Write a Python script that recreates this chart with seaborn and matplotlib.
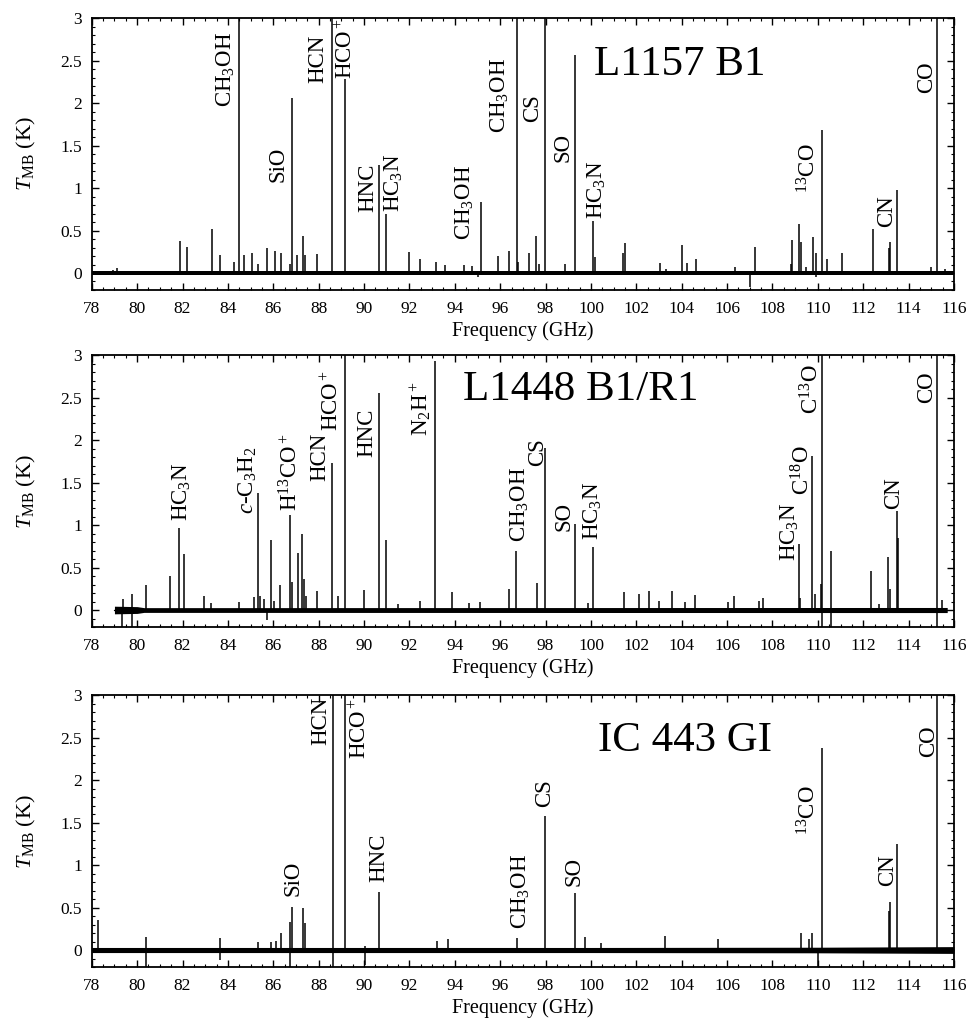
import matplotlib
matplotlib.use("Agg")
import matplotlib.pyplot as plt
import seaborn as sns
from matplotlib.ticker import MultipleLocator, FuncFormatter

# ---------------- L1157 B1 ----------------
l1157_freq = [78.95, 79.10, 81.87, 82.20, 83.28, 83.66, 84.29, 84.50, 84.73, 85.04,
              85.32, 85.73, 86.07, 86.32, 86.72, 86.82, 87.04, 87.30, 87.39, 87.91,
              88.60, 89.16, 90.65, 90.95, 91.98, 92.48, 93.15, 93.55, 94.39, 94.77,
              95.17, 95.89, 96.40, 96.73, 96.80, 97.27, 97.56, 97.71, 97.97, 98.87,
              99.30, 100.08, 100.18, 101.40, 101.48, 103.03, 103.29, 104.00, 104.25, 104.62,
              106.35, 107.23, 108.81, 108.88, 109.17, 109.25, 109.47, 109.78, 109.91, 110.20,
              110.39, 111.08, 112.42, 113.14, 113.19, 113.48, 114.98, 115.27, 115.60]
l1157_peak = [0.04, 0.06, 0.38, 0.31, 0.52, 0.21, 0.13, 4.0, 0.21, 0.24,
              0.11, 0.30, 0.26, 0.24, 0.11, 2.06, 0.21, 0.43, 0.21, 0.22,
              4.0, 2.28, 1.27, 0.70, 0.25, 0.17, 0.13, 0.10, 0.09, 0.08,
              0.84, 0.20, 0.26, 4.0, 0.13, 0.23, 0.44, 0.11, 4.0, 0.11,
              2.57, 0.61, 0.19, 0.23, 0.35, 0.12, 0.05, 0.33, 0.12, 0.16,
              0.07, 0.31, 0.11, 0.39, 0.58, 0.36, 0.07, 0.42, 0.23, 1.69,
              0.17, 0.24, 0.52, 0.29, 0.36, 0.98, 0.07, 4.0, 0.05]
l1157_dip_freq = [95.00, 107.00, 109.90]
l1157_dip = [-0.05, -0.17, -0.05]
l1157_noise_freq = [78.0, 116.0]
l1157_noise = [0.022, 0.022]
l1157_labels = ["CH$_3$OH", "SiO", "HCN", "HCO$^+$", "HNC", "HC$_3$N", "CH$_3$OH",
                "CH$_3$OH", "CS", "SO", "HC$_3$N", "$^{13}$CO", "CN", "CO"]
l1157_label_x = [83.92, 86.21, 87.95, 89.21, 90.17, 91.32, 94.43,
                 95.98, 97.44, 98.77, 100.24, 109.61, 113.02, 114.79]
l1157_label_y = [1.96, 1.07, 2.24, 2.28, 0.72, 0.72, 0.39,
                 1.65, 1.78, 1.31, 0.64, 0.94, 0.54, 2.12]

# ---------------- L1448 B1/R1 ----------------
l1448_freq = [79.37, 79.78, 80.39, 81.47, 81.86, 82.08, 82.96, 83.26, 84.51, 85.14,
              85.31, 85.43, 85.61, 85.90, 86.05, 86.31, 86.74, 86.84, 87.07, 87.28,
              87.35, 87.43, 87.91, 88.59, 88.84, 89.18, 89.98, 90.64, 90.97, 91.48,
              92.48, 93.14, 93.86, 94.64, 95.12, 96.40, 96.71, 97.62, 97.96, 99.28,
              99.85, 100.07, 101.47, 102.13, 102.54, 103.01, 103.59, 104.15, 104.59, 106.02,
              106.31, 107.41, 107.59, 109.15, 109.22, 109.76, 109.88, 110.14, 110.17, 110.60,
              112.33, 112.70, 113.11, 113.17, 113.48, 113.51, 115.27, 115.49]
l1448_peak = [0.13, 0.19, 0.29, 0.40, 0.97, 0.66, 0.17, 0.08, 0.09, 0.15,
              1.38, 0.17, 0.13, 0.83, 0.11, 0.29, 1.12, 0.33, 0.67, 0.89,
              0.36, 0.17, 0.22, 1.73, 0.17, 4.0, 0.24, 2.56, 0.83, 0.07,
              0.11, 2.93, 0.21, 0.08, 0.09, 0.25, 0.70, 0.32, 1.91, 1.01,
              0.08, 0.74, 0.21, 0.19, 0.23, 0.11, 0.22, 0.09, 0.18, 0.10,
              0.17, 0.11, 0.14, 0.78, 0.14, 1.82, 0.19, 0.31, 4.0, 0.70,
              0.46, 0.07, 0.62, 0.25, 1.17, 0.85, 4.0, 0.12]
l1448_dip_freq = [79.35, 79.78, 85.71, 110.17, 110.60, 115.27]
l1448_dip = [-0.25, -0.25, -0.12, -0.25, -0.25, -0.25]
l1448_noise_freq = [79.0, 80.0, 80.3, 115.7]
l1448_noise = [0.045, 0.04, 0.028, 0.03]
l1448_labels = ["HC$_3$N", "$c$-C$_3$H$_2$", "H$^{13}$CO$^+$", "HCN", "HCO$^+$", "HNC",
                "N$_2$H$^+$", "CH$_3$OH", "CS", "SO", "HC$_3$N", "HC$_3$N",
                "C$^{18}$O", "C$^{13}$O", "CN", "CO"]
l1448_label_x = [81.96, 84.90, 86.78, 88.03, 88.59, 90.11,
                 92.51, 96.87, 97.65, 98.82, 100.10, 108.76,
                 109.35, 109.72, 113.32, 114.78]
l1448_label_y = [1.05, 1.13, 1.17, 1.52, 2.11, 1.80,
                 2.05, 0.80, 1.70, 0.93, 0.82, 0.58,
                 1.36, 2.31, 1.19, 2.44]

# ---------------- IC 443 GI ----------------
ic443_freq = [78.29, 80.39, 83.63, 85.34, 85.90, 86.12, 86.34, 86.75, 86.84, 87.33,
              87.40, 88.62, 89.18, 90.06, 90.67, 93.20, 93.68, 96.74, 97.99, 99.31,
              99.75, 100.44, 103.26, 105.58, 109.25, 109.62, 109.76, 110.20, 113.14, 113.18,
              113.48, 115.26]
ic443_peak = [0.35, 0.15, 0.14, 0.10, 0.09, 0.11, 0.20, 0.33, 0.51, 0.49,
              0.32, 4.0, 4.0, 0.05, 0.68, 0.11, 0.13, 0.14, 1.58, 0.67,
              0.15, 0.08, 0.17, 0.13, 0.20, 0.13, 0.20, 2.38, 0.46, 0.57,
              1.25, 4.0]
ic443_dip_freq = [80.39, 83.63, 86.75, 88.62, 90.06, 110.00]
ic443_dip = [-0.20, -0.12, -0.20, -0.20, -0.18, -0.20]
ic443_noise_freq = [78.0, 100.0, 110.0, 116.0]
ic443_noise = [0.03, 0.03, 0.033, 0.04]
ic443_labels = ["SiO", "HCN", "HCO$^+$", "HNC", "CH$_3$OH", "CS", "SO",
                "$^{13}$CO", "CN", "CO"]
ic443_label_x = [86.85, 88.10, 89.82, 90.63, 96.91, 97.94, 99.26,
                 109.62, 113.07, 114.87]
ic443_label_y = [0.64, 2.42, 2.25, 0.80, 0.25, 1.68, 0.76,
                 1.35, 0.76, 2.27]

sources = [
    ("L1157 B1", (100.13, 2.33), l1157_freq, l1157_peak, l1157_dip_freq, l1157_dip,
     l1157_noise_freq, l1157_noise, l1157_labels, l1157_label_x, l1157_label_y),
    ("L1448 B1/R1", (94.34, 2.48), l1448_freq, l1448_peak, l1448_dip_freq, l1448_dip,
     l1448_noise_freq, l1448_noise, l1448_labels, l1448_label_x, l1448_label_y),
    ("IC 443 GI", (100.29, 2.34), ic443_freq, ic443_peak, ic443_dip_freq, ic443_dip,
     ic443_noise_freq, ic443_noise, ic443_labels, ic443_label_x, ic443_label_y),
]

sns.set_style("ticks", {"axes.edgecolor": "black", "text.color": "black",
                        "xtick.color": "black", "ytick.color": "black",
                        "axes.labelcolor": "black"})
plt.rcParams["font.family"] = ["Liberation Serif", "DejaVu Serif"]
plt.rcParams["mathtext.fontset"] = "custom"
plt.rcParams["mathtext.rm"] = "Liberation Serif"
plt.rcParams["mathtext.it"] = "Liberation Serif:italic"
plt.rcParams["mathtext.bf"] = "Liberation Serif:bold"

fig = plt.figure(figsize=(9.71, 10.21), dpi=100)
bottoms = [0.7160, 0.3859, 0.0529]

for (name, name_pos, freq, peak, dfreq, dip, nfreq, noise, labels, lx, ly), b in zip(sources, bottoms):
    ax = fig.add_axes([0.0945, b, 0.888, 0.2660])
    # noise band of the baseline
    ax.fill_between(nfreq, [-n for n in noise], noise, color="black", lw=0)
    ax.plot([nfreq[0], nfreq[-1]], [0, 0], color="black", lw=1.0)
    # emission lines and negative spikes
    ax.vlines(freq, 0, peak, color="black", lw=1.1)
    ax.vlines(dfreq, dip, 0, color="black", lw=1.1)

    for t, x, y in zip(labels, lx, ly):
        ax.text(x, y, t, rotation=90, ha="center", va="bottom", fontsize=16.5)
    ax.text(name_pos[0], name_pos[1], name, fontsize=31, ha="left", va="baseline")

    ax.set_xlim(78, 116)
    ax.set_ylim(-0.2, 3)
    ax.xaxis.set_major_locator(MultipleLocator(2))
    ax.xaxis.set_minor_locator(MultipleLocator(0.5))
    ax.yaxis.set_major_locator(MultipleLocator(0.5))
    ax.yaxis.set_minor_locator(MultipleLocator(0.1))
    ax.yaxis.set_major_formatter(FuncFormatter(lambda v, p: "%g" % v))
    ax.tick_params(which="both", direction="in", top=True, right=True, labelsize=12.5)
    ax.tick_params(axis="x", which="major", pad=8)
    ax.tick_params(axis="y", which="major", pad=7)
    ax.tick_params(which="major", length=5, width=1)
    ax.tick_params(which="minor", length=2.5, width=0.8)
    for s in ax.spines.values():
        s.set_linewidth(1.3)
    ax.set_xlabel("Frequency (GHz)", fontsize=14.5, labelpad=3)
    ax.set_ylabel("$T_{\\rm MB}$ (K)", fontsize=16, labelpad=16)

fig.savefig("out.png", dpi=100)
